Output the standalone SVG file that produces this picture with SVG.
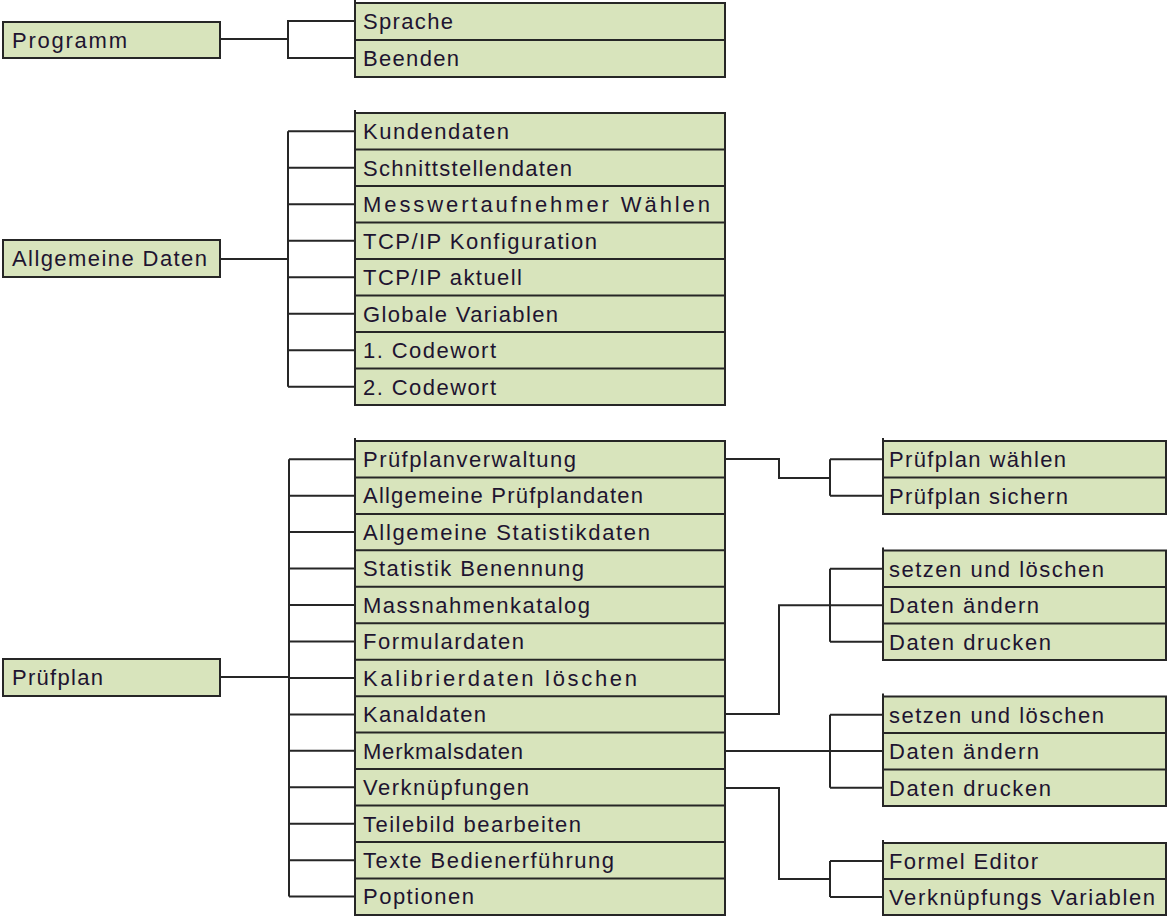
<svg xmlns="http://www.w3.org/2000/svg" width="1167" height="916" viewBox="0 0 1167 916">
<style>
.bg{fill:#ffffff}
.box{fill:#d8e4bc;stroke:#262626;stroke-width:2}
.sep{stroke:#262626;stroke-width:2;fill:none}
.tick{stroke:#262626;stroke-width:2}
.con{stroke:#262626;stroke-width:2;fill:none}
text{font-family:"Liberation Sans",Arial,sans-serif;font-size:22px;fill:#1e1430}
</style>
<rect class="bg" x="0" y="0" width="1167" height="916"/>
<g id="connectors">
<path class="con" d="M220,39 H288 M355,21 H288 V58 H355"/>
<path class="con" d="M220,259 H288 M288,131.25 V386.75 M288,131.25 H355 M288,167.75 H355 M288,204.25 H355 M288,240.75 H355 M288,277.25 H355 M288,313.75 H355 M288,350.25 H355 M288,386.75 H355"/>
<path class="con" d="M220,677 H289 M289,459.2 V896.6 M289,459.2 H355 M289,495.7 H355 M289,532.1 H355 M289,568.6 H355 M289,605 H355 M289,641.5 H355 M289,677.9 H355 M289,714.4 H355 M289,750.8 H355 M289,787.3 H355 M289,823.7 H355 M289,860.2 H355 M289,896.6 H355"/>
<path class="con" d="M725,459 H779 V478 H830 M830,459.25 V495.75 M830,459.25 H883 M830,495.75 H883"/>
<path class="con" d="M725,714 H779 V605.25 H883 M830,568.75 V641.75 M830,568.75 H883 M830,641.75 H883"/>
<path class="con" d="M725,751 H883 M830,714.75 V787.75 M830,714.75 H883 M830,787.75 H883"/>
<path class="con" d="M725,788 H779 V879 H830 M830,861 V897 M830,861 H883 M830,897 H883"/>
</g>
<g id="programm">
<rect class="box" x="3" y="22" width="217" height="36"/>
<text x="12" y="48" textLength="115" lengthAdjust="spacing">Programm</text>
</g>
<g id="allgemeine-daten">
<rect class="box" x="3" y="240" width="217" height="37"/>
<text x="12" y="266" textLength="195" lengthAdjust="spacing">Allgemeine Daten</text>
</g>
<g id="pruefplan">
<rect class="box" x="3" y="659" width="217" height="37"/>
<text x="12" y="685" textLength="91" lengthAdjust="spacing">Prüfplan</text>
</g>
<g id="programm-menu">
<rect class="box" x="355" y="3" width="370" height="74"/>
<line class="tick" x1="355" y1="0" x2="355" y2="3"/>
<line class="sep" x1="355" y1="40" x2="725" y2="40"/>
<text x="363" y="29" textLength="90" lengthAdjust="spacing">Sprache</text>
<text x="363" y="66" textLength="96" lengthAdjust="spacing">Beenden</text>
</g>
<g id="allgemeine-menu">
<rect class="box" x="355" y="113" width="370" height="292"/>
<line class="tick" x1="355" y1="110" x2="355" y2="113"/>
<path class="sep" d="M355,149.5 H725 M355,186 H725 M355,222.5 H725 M355,259 H725 M355,295.5 H725 M355,332 H725 M355,368.5 H725"/>
<text x="363" y="139" textLength="146" lengthAdjust="spacing">Kundendaten</text>
<text x="363" y="175.5" textLength="209" lengthAdjust="spacing">Schnittstellendaten</text>
<text x="363" y="212" textLength="347" lengthAdjust="spacing">Messwertaufnehmer Wählen</text>
<text x="363" y="248.5" textLength="234" lengthAdjust="spacing">TCP/IP Konfiguration</text>
<text x="363" y="285" textLength="159" lengthAdjust="spacing">TCP/IP aktuell</text>
<text x="363" y="321.5" textLength="195" lengthAdjust="spacing">Globale Variablen</text>
<text x="363" y="358" textLength="133" lengthAdjust="spacing">1. Codewort</text>
<text x="363" y="394.5" textLength="133" lengthAdjust="spacing">2. Codewort</text>
</g>
<g id="pruefplan-menu">
<rect class="box" x="355" y="441" width="370" height="474"/>
<line class="tick" x1="355" y1="438" x2="355" y2="441"/>
<path class="sep" d="M355,477.45 H725 M355,513.9 H725 M355,550.35 H725 M355,586.8 H725 M355,623.25 H725 M355,659.7 H725 M355,696.15 H725 M355,732.6 H725 M355,769.05 H725 M355,805.5 H725 M355,841.95 H725 M355,878.4 H725"/>
<text x="363" y="467" textLength="213" lengthAdjust="spacing">Prüfplanverwaltung</text>
<text x="363" y="503.45" textLength="280" lengthAdjust="spacing">Allgemeine Prüfplandaten</text>
<text x="363" y="539.9" textLength="287" lengthAdjust="spacing">Allgemeine Statistikdaten</text>
<text x="363" y="576.35" textLength="221" lengthAdjust="spacing">Statistik Benennung</text>
<text x="363" y="612.8" textLength="227" lengthAdjust="spacing">Massnahmenkatalog</text>
<text x="363" y="649.25" textLength="161" lengthAdjust="spacing">Formulardaten</text>
<text x="363" y="685.7" textLength="274" lengthAdjust="spacing">Kalibrierdaten löschen</text>
<text x="363" y="722.15" textLength="123" lengthAdjust="spacing">Kanaldaten</text>
<text x="363" y="758.6" textLength="160" lengthAdjust="spacing">Merkmalsdaten</text>
<text x="363" y="795.05" textLength="166" lengthAdjust="spacing">Verknüpfungen</text>
<text x="363" y="831.5" textLength="218" lengthAdjust="spacing">Teilebild bearbeiten</text>
<text x="363" y="867.95" textLength="251" lengthAdjust="spacing">Texte Bedienerführung</text>
<text x="363" y="904.4" textLength="111" lengthAdjust="spacing">Poptionen</text>
</g>
<g id="pruefplanverwaltung-menu">
<rect class="box" x="883" y="441" width="283" height="73"/>
<line class="tick" x1="883" y1="438" x2="883" y2="441"/>
<line class="sep" x1="883" y1="477.5" x2="1166" y2="477.5"/>
<text x="889" y="467" textLength="177" lengthAdjust="spacing">Prüfplan wählen</text>
<text x="889" y="503.5" textLength="179" lengthAdjust="spacing">Prüfplan sichern</text>
</g>
<g id="kanaldaten-menu">
<rect class="box" x="883" y="550.5" width="283" height="109.5"/>
<line class="tick" x1="883" y1="547.5" x2="883" y2="550.5"/>
<path class="sep" d="M883,587 H1166 M883,623.5 H1166"/>
<text x="889" y="576.5" textLength="215" lengthAdjust="spacing">setzen und löschen</text>
<text x="889" y="613" textLength="150" lengthAdjust="spacing">Daten ändern</text>
<text x="889" y="649.5" textLength="162" lengthAdjust="spacing">Daten drucken</text>
</g>
<g id="merkmalsdaten-menu">
<rect class="box" x="883" y="696.5" width="283" height="109.5"/>
<line class="tick" x1="883" y1="693.5" x2="883" y2="696.5"/>
<path class="sep" d="M883,733 H1166 M883,769.5 H1166"/>
<text x="889" y="722.5" textLength="215" lengthAdjust="spacing">setzen und löschen</text>
<text x="889" y="759" textLength="150" lengthAdjust="spacing">Daten ändern</text>
<text x="889" y="795.5" textLength="162" lengthAdjust="spacing">Daten drucken</text>
</g>
<g id="verknuepfungen-menu">
<rect class="box" x="883" y="843" width="283" height="72"/>
<line class="tick" x1="883" y1="840" x2="883" y2="843"/>
<line class="sep" x1="883" y1="879" x2="1166" y2="879"/>
<text x="889" y="869" textLength="149" lengthAdjust="spacing">Formel Editor</text>
<text x="889" y="905" textLength="266" lengthAdjust="spacing">Verknüpfungs Variablen</text>
</g>
</svg>
